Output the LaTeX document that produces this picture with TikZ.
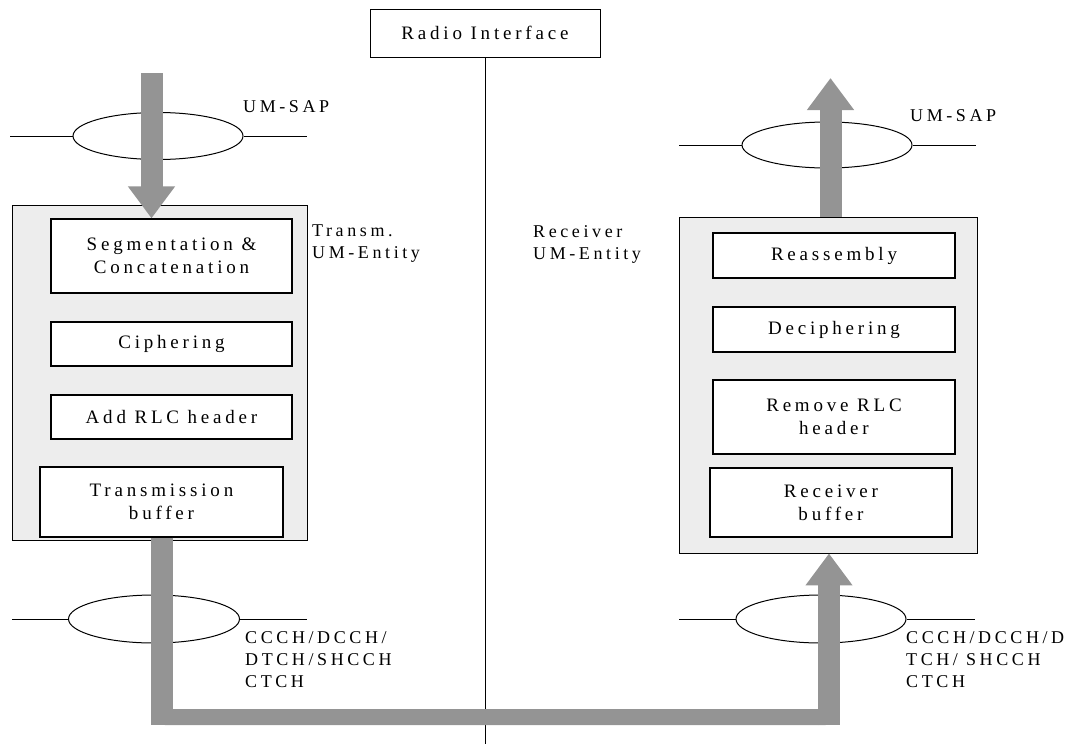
\documentclass[tikz,border=0pt]{standalone}
\usepackage{fontspec}
\setmainfont{Liberation Serif}[LetterSpace=20]
\usetikzlibrary{arrows.meta,positioning,shapes.geometric}

\tikzset{
  entity/.style={draw,line width=0.9pt,fill=black!7},
  func/.style={draw,line width=1.2pt,fill=white,align=center,
    font=\fontsize{19}{23}\selectfont},
  sap/.style={draw,ellipse,line width=1pt,fill=white,inner sep=0pt},
  lbl/.style={anchor=north west,inner sep=0pt,align=left,
    font=\fontsize{18}{22}\selectfont},
  flow/.style={draw=black!42,line width=22pt},
  flowhead/.style={-{Triangle[length=32pt,width=45pt]}}
}

\begin{document}
\begin{tikzpicture}[x=1pt,y=-1pt]
\useasboundingbox (0,0) rectangle (1092,744);

% radio interface
\node[draw,line width=0.9pt,minimum width=230,minimum height=48,
  font=\fontsize{19}{22}\selectfont] (radio) at (485,33) {Radio Interface};
\coordinate (radiobot) at (485,744);
\draw[line width=0.9pt] (radio.south) -- (radiobot);

% transmitting side
\node[entity,minimum width=295,minimum height=335] (txent) at (159.5,372.5) {};
\node[func,minimum width=241,minimum height=74] (seg) at (171.5,256) {Segmentation \&\\Concatenation};
\node[func,minimum width=241,minimum height=44] (ciph) at (171.5,344) {Ciphering};
\node[func,minimum width=241,minimum height=44] (addhdr) at (171.5,417) {Add RLC header};
\node[func,minimum width=243,minimum height=70] (txbuf) at (161.5,502) {Transmission\\buffer};
\node[lbl] (txlbl) at (312,225) {Transm.\\UM-Entity};

% receiving side
\node[entity,minimum width=298,minimum height=336] (rxent) at (828,385) {};
\node[func,minimum width=242,minimum height=45] (reasm) at (834,255.5) {Reassembly};
\node[func,minimum width=242,minimum height=45] (deciph) at (834,329.5) {Deciphering};
\node[func,minimum width=242,minimum height=74] (rmhdr) at (834,417) {Remove RLC\\header};
\node[func,minimum width=242,minimum height=69] (rxbuf) at (831,502.5) {Receiver\\buffer};
\node[lbl] (rxlbl) at (533,225) {Receiver\\UM-Entity};

% service access points
\node[sap,minimum width=170,minimum height=47] (sapL) at (158,136) {};
\node[sap,minimum width=170,minimum height=46] (sapR) at (827,145) {};
\node[sap,minimum width=171,minimum height=48] (chL) at (154,619) {};
\node[sap,minimum width=170,minimum height=48] (chR) at (821,619) {};
\coordinate (sapLw) at (10,136);  \coordinate (sapLe) at (307,136);
\coordinate (sapRw) at (679,145); \coordinate (sapRe) at (976,145);
\coordinate (chLw) at (12,619);   \coordinate (chLe) at (307,619);
\coordinate (chRw) at (679,619);  \coordinate (chRe) at (975,619);
\draw[line width=1pt] (sapLw) -- (sapL.west) (sapL.east) -- (sapLe);
\draw[line width=1pt] (sapRw) -- (sapR.west) (sapR.east) -- (sapRe);
\draw[line width=1pt] (chLw) -- (chL.west) (chL.east) -- (chLe);
\draw[line width=1pt] (chRw) -- (chR.west) (chR.east) -- (chRe);

\node[lbl] (sapLlbl) at (243,100) {UM-SAP};
\node[lbl] (sapRlbl) at (910,109) {UM-SAP};
\node[lbl] (chLlbl) at (245,631) {CCCH/DCCH/\\DTCH/SHCCH\\CTCH};
\node[lbl] (chRlbl) at (906,631) {CCCH/DCCH/D\\TCH/ SHCCH\\CTCH};

% data flow
\coordinate (inL) at (151.5,73);
\coordinate (outR) at (830.5,78);
\coordinate (dnL) at (161.5,725);
\coordinate (dnR) at (829,725);
\draw[flow,flowhead] (inL) -- (inL |- seg.north);
\draw[flow,flowhead] (outR |- rxent.north) -- (outR);
\draw[flow,line width=16pt,rounded corners=5pt] (161.5,700) -- (161.5,717) -- (829,717) -- (829,700);
\draw[flow] (txbuf.south -| dnL) -- (dnL);
\draw[flow,flowhead] (dnR) -- (dnR |- rxent.south);
\end{tikzpicture}
\end{document}
